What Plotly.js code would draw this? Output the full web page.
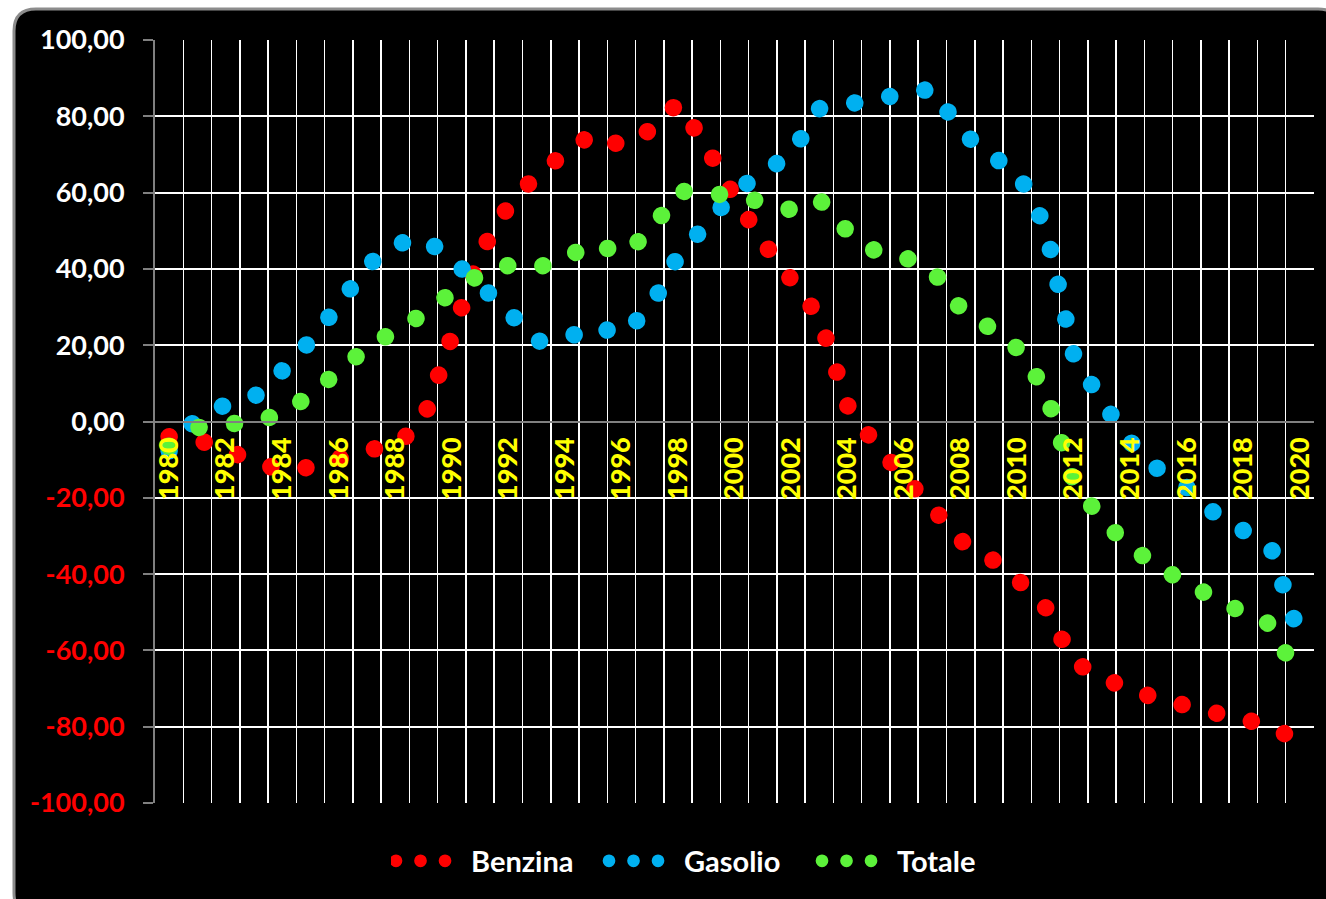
<!DOCTYPE html>
<html>
<head>
<meta charset="utf-8">
<script src="https://cdn.plot.ly/plotly-3.0.1.min.js"></script>
<style>
html,body{margin:0;padding:0;background:#ffffff;}
#chart{width:1326px;height:899px;}
.scatterlayer .js-line{stroke-linecap:round;stroke-linejoin:round;}
.legend .legendlines path{stroke-linecap:round;stroke-width:12.7px !important;stroke-dasharray:0.01px,24.5px !important;}
</style>
</head>
<body>
<div id="chart"></div>
<script>
// ---- data ----
const years = [1980,1981,1982,1983,1984,1985,1986,1987,1988,1989,
               1990,1991,1992,1993,1994,1995,1996,1997,1998,1999,
               2000,2001,2002,2003,2004,2005,2006,2007,2008,2009,
               2010,2011,2012,2013,2014,2015,2016,2017,2018,2019,2020];

const benzina = [-4.0,-4.8,-7.3,-10.6,-12.7,-12.0,-9.7,-7.4,-6.5,0.5,
                 22.3,44.0,56.5,64.6,70.2,75.5,72.3,76.3,83.4,72.1,
                 58.8,47.1,37.3,27.3,4.2,-6.2,-14.6,-22.6,-31.2,-35.5,
                 -41.3,-48.7,-63.0,-67.1,-70.3,-72.7,-74.5,-76.4,-78.0,-80.0,-84.0];

const gasolio = [-7.7,1.0,4.4,6.4,13.3,21.2,30.6,40.8,46.4,48.1,
                 42.4,35.7,28.8,21.0,21.6,25.1,22.8,29.5,43.3,51.6,
                 60.1,65.3,70.0,82.0,83.2,84.4,86.0,87.2,76.2,69.9,
                 65.6,51.0,17.5,5.2,-5.3,-12.6,-17.3,-24.2,-28.6,-33.5,-56.7];

const totale = [-6.5,-1.6,-0.7,-0.2,2.1,6.9,13.3,19.3,23.8,28.2,
                33.8,38.6,40.9,40.3,42.7,46.9,43.9,49.4,60.4,60.0,
                59.0,57.6,55.5,58.2,49.8,44.6,43.1,39.7,29.6,24.7,
                19.2,8.2,-15.8,-25.8,-32.9,-38.1,-42.3,-46.4,-50.1,-53.3,-68.2];

const seriesNames  = ['Benzina','Gasolio','Totale'];
const seriesColors = ['#ff0000','#00b0f0','#5cf23a'];

const xTickLabels = ['1980','1982','1984','1986','1988','1990','1992','1994','1996','1998',
                     '2000','2002','2004','2006','2008','2010','2012','2014','2016','2018','2020'];
const yTickVals = [-100,-80,-60,-40,-20,0,20,40,60,80,100];
const yTickText = ['-100,00','-80,00','-60,00','-40,00','-20,00','0,00','20,00','40,00','60,00','80,00','100,00'];

// ---- layout helpers ----
const W = 1326, H = 899;
const M = {l:155, r:12, t:40, b:96};
const pw = W - M.l - M.r, ph = H - M.t - M.b;
const px2x = p => (p - M.l) / pw;
const px2y = p => (H - M.b - p) / ph;

const xRange = [years[0] - 0.5, years[years.length-1] + 0.5];
// tick marks on every second category boundary
const xMarkVals = [];
for (let i = 0; i < years.length; i += 2) xMarkVals.push(years[i] - 0.5);

const seriesData = [benzina, gasolio, totale];
const traces = seriesData.map((vals, i) => ({
  type: 'scatter',
  mode: 'lines',
  name: seriesNames[i],
  x: years,
  y: vals,
  line: {color: seriesColors[i], width: 17.5, dash: '0.01px,35.6px', simplify: false},
  hoverinfo: 'skip'
}));

// rounded black panel with grey border
const x0 = px2x(14), x1 = px2x(1340), yT = px2y(9), yB = px2y(915);
const rx = 22 / pw, ry = 22 / ph;
const panel = `M ${x0+rx},${yT} L ${x1-rx},${yT} Q ${x1},${yT} ${x1},${yT-ry} L ${x1},${yB+ry} Q ${x1},${yB} ${x1-rx},${yB} L ${x0+rx},${yB} Q ${x0},${yB} ${x0},${yB+ry} L ${x0},${yT-ry} Q ${x0},${yT} ${x0+rx},${yT} Z`;

const fam = 'Lato, "Open Sans", sans-serif';

const layout = {
  width: W, height: H,
  margin: M,
  paper_bgcolor: '#ffffff',
  plot_bgcolor: 'rgba(0,0,0,0)',
  showlegend: true,
  hovermode: false,
  shapes: [{
    type: 'path', xref: 'paper', yref: 'paper', layer: 'below',
    path: panel, fillcolor: '#000000', line: {color: '#8c8c8c', width: 3}
  }],
  xaxis: {
    type: 'linear',
    range: xRange,
    anchor: 'free', position: 0.5,
    tickmode: 'array', tickvals: xTickLabels.map(Number), ticktext: xTickLabels,
    ticks: '', showgrid: false,
    ticklabelstandoff: 4,
    tickangle: -90,
    tickfont: {family: fam, weight: 900, size: 27, color: '#ffff00'},
    showline: true, linecolor: '#808080', linewidth: 2,
    zeroline: false,
    minor: {dtick: 1, tick0: xRange[0], ticks: '', showgrid: true, gridcolor: '#ffffff', gridwidth: 1.5},
    fixedrange: true
  },
  xaxis2: {
    type: 'linear',
    range: xRange,
    overlaying: 'x',
    anchor: 'free', position: 0.5,
    tickmode: 'array', tickvals: xMarkVals,
    ticks: 'outside', ticklen: 9, tickwidth: 2, tickcolor: '#808080',
    showticklabels: false, showgrid: false, showline: false, zeroline: false,
    fixedrange: true
  },
  yaxis: {
    range: [-100, 100],
    tickmode: 'array', tickvals: yTickVals,
    ticktext: yTickText.map((t, i) => yTickVals[i] < 0 ? '<span style="color:#ff0000">' + t + '</span>' : t),
    tickfont: {family: fam, weight: 700, size: 27, color: '#ffffff'},
    ticks: 'outside', ticklen: 10, tickwidth: 2, tickcolor: '#808080',
    ticklabelstandoff: 13,
    showgrid: true, gridcolor: '#ffffff', gridwidth: 2,
    zeroline: false,
    showline: true, linecolor: '#808080', linewidth: 2,
    fixedrange: true
  },
  legend: {
    orientation: 'h',
    x: px2x(391), xanchor: 'left',
    y: px2y(861), yanchor: 'middle',
    bgcolor: 'rgba(0,0,0,0)',
    font: {family: fam, weight: 700, size: 29, color: '#ffffff'},
    itemwidth: 70,
    entrywidth: 128, entrywidthmode: 'pixels',
    traceorder: 'normal'
  }
};

Plotly.newPlot('chart', traces, layout, {displayModeBar: false, staticPlot: true});
</script>
</body>
</html>
